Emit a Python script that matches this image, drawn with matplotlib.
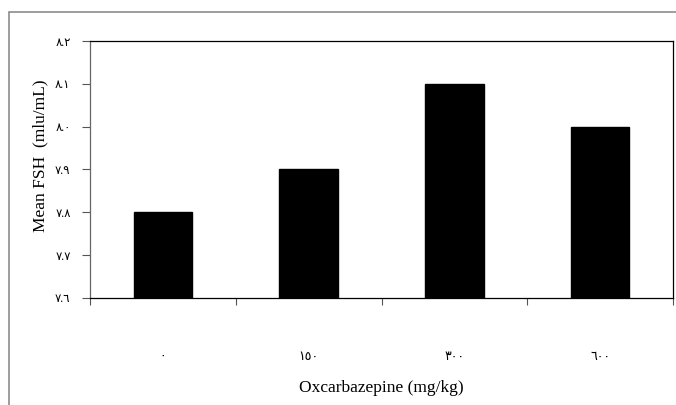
import matplotlib.pyplot as plt
from matplotlib.patches import Rectangle

# data
doses = ['٠', '١٥٠', '٣٠٠', '٦٠٠']
mean_fsh = [7.8, 7.9, 8.1, 8.0]
yticks = [7.6, 7.7, 7.8, 7.9, 8.0, 8.1, 8.2]
ytick_labels = ['٧.٦', '٧.٧', '٧.٨', '٧.٩', '٨.٠', '٨.١', '٨.٢']

fonts = ['Liberation Serif', 'DejaVu Sans']
plt.rcParams['font.family'] = fonts

W, H = 676, 405
fig = plt.figure(figsize=(W / 100, H / 100), dpi=100)

# outer chart frame (gray, runs off right and bottom)
fig.patches.append(Rectangle((9 / W, -0.1), 1.2, 1 - 12 / H + 0.1,
                             transform=fig.transFigure, fill=False,
                             edgecolor='#8c8c8c', linewidth=1.2))

ax = fig.add_axes([90 / W, 1 - 298 / H, (673 - 90) / W, (298 - 41) / H])

x = range(len(doses))
ax.bar(x, [v - 7.6 for v in mean_fsh], bottom=7.6, width=0.4,
       color='black', edgecolor='black')

ax.set_xlim(-0.5, len(doses) - 0.5)
ax.set_ylim(7.6, 8.2)

ax.set_yticks(yticks)
ax.set_yticklabels(ytick_labels, fontsize=8.5, family=fonts)
ax.tick_params(axis='y', direction='out', length=6, width=0.8,
               color='#555555', pad=8)

ax.set_xticks(list(x))
ax.set_xticklabels(doses, fontsize=9, family=fonts)
ax.tick_params(axis='x', which='major', length=0, pad=38)
ax.set_xticks([i - 0.5 for i in range(len(doses) + 1)], minor=True)
ax.tick_params(axis='x', which='minor', direction='out', length=5,
               width=0.8, color='#555555')

for s in ax.spines.values():
    s.set_linewidth(0.9)
ax.spines['left'].set_color('#666666')

fig.text(40 / W, 1 - 156 / H, 'Mean FSH  (mlu/mL)', fontsize=12.5,
         rotation=90, ha='center', va='center')
fig.text(381 / W, 1 - 388 / H, 'Oxcarbazepine (mg/kg)', fontsize=12.5,
         ha='center', va='center')

fig.savefig('out.png', dpi=100)
